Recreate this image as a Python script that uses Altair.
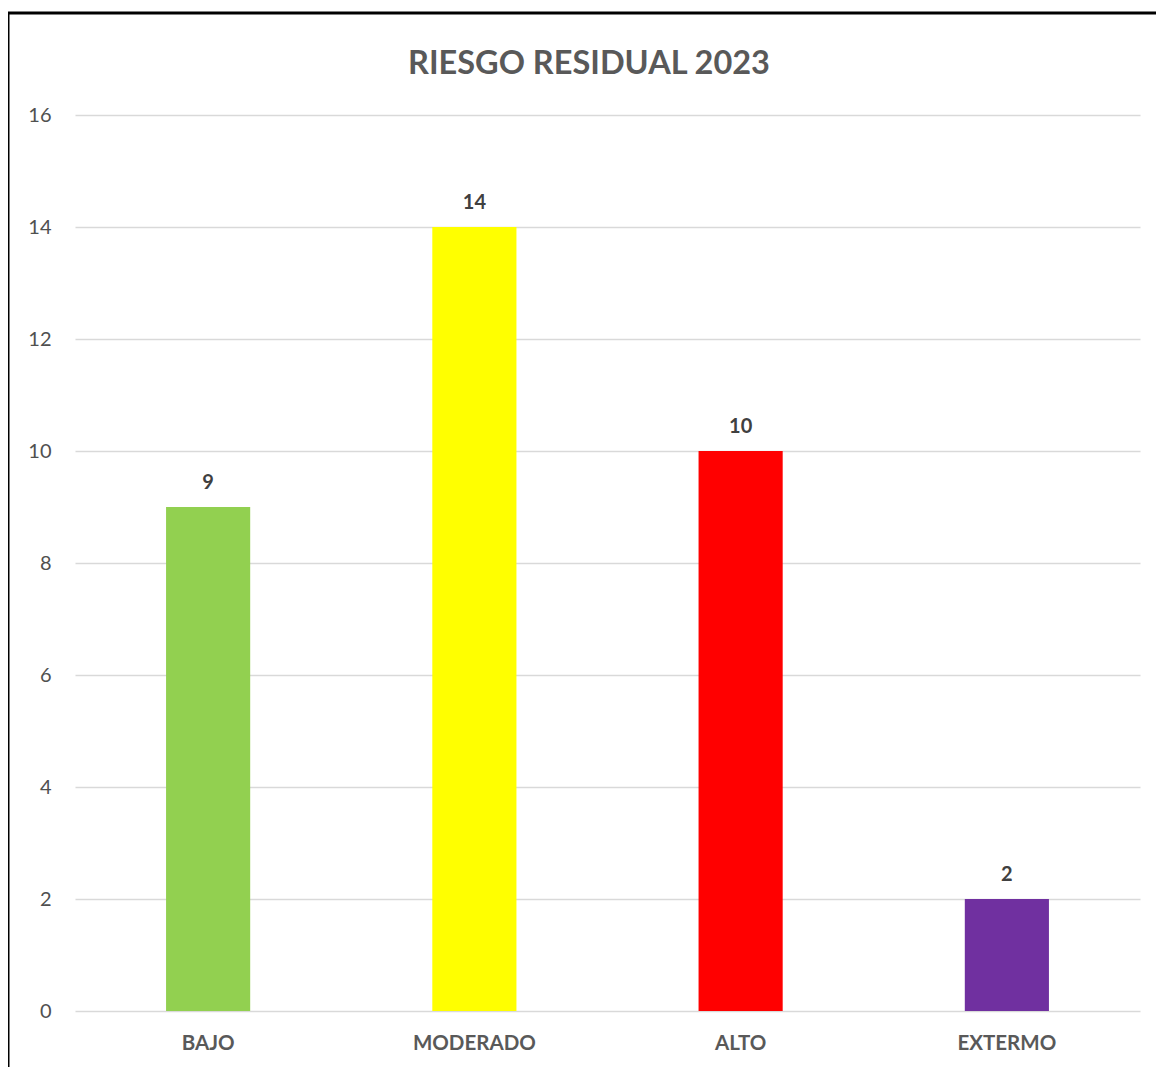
import altair as alt
import pandas as pd

categories = ["BAJO", "MODERADO", "ALTO", "EXTERMO"]
values = [9, 14, 10, 2]
colors = ["#92D050", "#FFFF00", "#FF0000", "#7030A0"]
title_text = ["RIESGO RESIDUAL 2023"]

df = pd.DataFrame({"cat": categories, "val": values, "color": colors})
tdf = pd.DataFrame({"t": title_text})

FONT = "Lato"

x = alt.X("cat:N", sort=categories, title=None,
          scale=alt.Scale(paddingInner=0.684, paddingOuter=0.342),
          axis=alt.Axis(labelAngle=0, labelFont=FONT, labelFontSize=20.5, labelFontWeight="bold",
                        labelColor="#595959", labelPadding=22, ticks=False, domain=False, grid=False))
y = alt.Y("val:Q", title=None,
          scale=alt.Scale(domain=[0, 16], nice=False),
          axis=alt.Axis(values=list(range(0, 17, 2)), labelFont=FONT, labelFontSize=20,
                        labelColor="#505050", labelPadding=24, ticks=False, domain=False,
                        gridColor="#D9D9D9", gridWidth=1.5))

base = alt.Chart(df)
bars = base.mark_bar().encode(x=x, y=y, color=alt.Color("color:N", scale=None))
text = base.mark_text(baseline="bottom", dy=-14, font=FONT, fontSize=20, fontWeight="bold",
                      color="#404040").encode(x=x, y=y, text="val:Q")

deco = alt.Chart(tdf)
title = deco.mark_text(baseline="alphabetic", align="center", font=FONT, fontSize=32.5,
                       fontWeight="bold", color="#595959").encode(
    x=alt.value(514), y=alt.value(-41), text="t:N")
border_top = deco.mark_rule(color="black", strokeWidth=3).encode(
    x=alt.value(-68), x2=alt.value(1100), y=alt.value(-102))
border_left = deco.mark_rule(color="black", strokeWidth=3).encode(
    x=alt.value(-67), y=alt.value(-102), y2=alt.value(980))

chart = alt.layer(border_top, border_left, title, bars, text).properties(
    width=1065, height=896,
    autosize=alt.AutoSizeParams(type="none"),
    padding={"left": 67, "top": 107, "right": 16, "bottom": 64},
).configure_view(stroke=None)

chart.save("out.html", embed_options={"renderer": "svg", "actions": False})
